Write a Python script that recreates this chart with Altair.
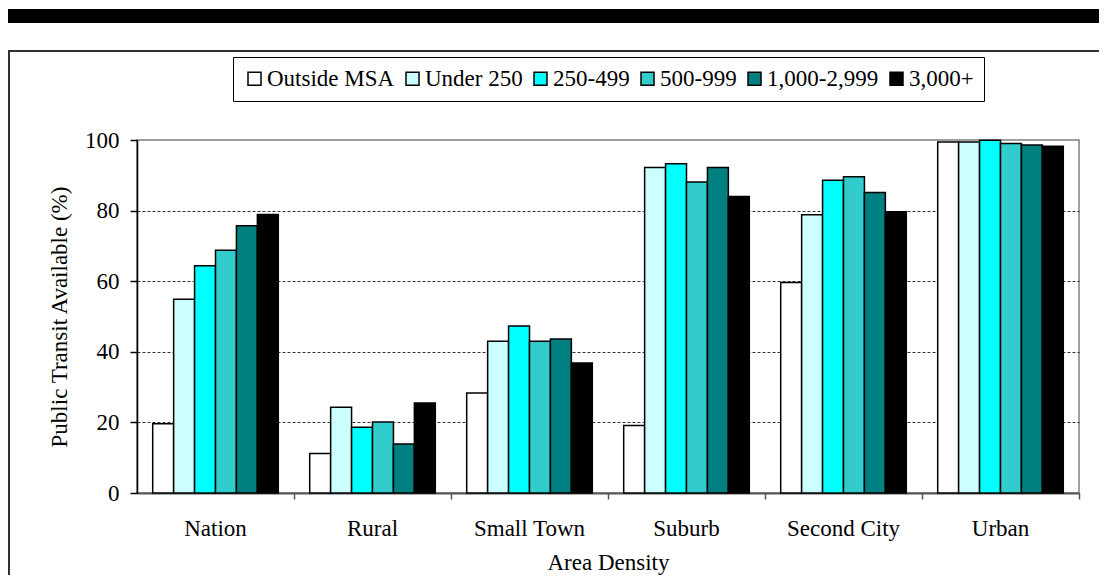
import altair as alt
import pandas as pd

categories = ["Nation", "Rural", "Small Town", "Suburb", "Second City", "Urban"]
series = ["Outside MSA", "Under 250", "250-499", "500-999", "1,000-2,999", "3,000+"]
colors = ["#FFFFFF", "#CCFFFF", "#00FFFF", "#33CCCC", "#008080", "#000000"]

outside_msa = [19.6, 11.2, 28.3, 19.1, 59.6, 99.4]
under_250 = [54.9, 24.3, 43.0, 92.2, 78.8, 99.4]
s250_499 = [64.4, 18.6, 47.3, 93.3, 88.6, 99.9]
s500_999 = [68.8, 20.1, 43.0, 88.1, 89.6, 99.0]
s1000_2999 = [75.7, 13.9, 43.6, 92.2, 85.1, 98.6]
s3000_plus = [78.9, 25.5, 36.8, 84.0, 79.7, 98.2]

all_series = [outside_msa, under_250, s250_499, s500_999, s1000_2999, s3000_plus]
rows = []
for sname, vals in zip(series, all_series):
    for cat, v in zip(categories, vals):
        rows.append({"Area": cat, "Series": sname, "Value": v})
df = pd.DataFrame(rows)

FONT = "Liberation Serif"
FS = 23

bars = alt.Chart(df).mark_bar(stroke="black", strokeWidth=1.5).encode(
    x=alt.X(
        "Area:N",
        sort=categories,
        scale=alt.Scale(paddingInner=0.2, paddingOuter=0.1),
        axis=alt.Axis(
            title="Area Density",
            labelAngle=0,
            bandPosition=1.125,
            tickSize=6,
            tickColor="#555555",
            tickWidth=1.5,
            domainColor="#555555",
            domainWidth=2,
            labelPadding=18,
            titlePadding=11,
            labelFont=FONT,
            labelFontSize=FS,
            labelColor="black",
            titleFont=FONT,
            titleFontSize=FS,
            titleFontWeight="normal",
            titleColor="black",
        ),
    ),
    xOffset=alt.XOffset("Series:N", sort=series, scale=alt.Scale(paddingInner=0, paddingOuter=0)),
    y=alt.Y(
        "Value:Q",
        scale=alt.Scale(domain=[0, 100], nice=False),
        axis=alt.Axis(
            title="Public Transit Available (%)",
            values=[0, 20, 40, 60, 80, 100],
            grid=True,
            gridDash=[3, 2],
            gridColor="#333333",
            gridWidth=1,
            gridOpacity={"condition": {"test": "datum.value === 100", "value": 0}, "value": 1},
            tickSize=7,
            tickColor="black",
            tickWidth=1.5,
            domainColor="black",
            domainWidth=1.5,
            labelPadding=11,
            titlePadding=13,
            labelFont=FONT,
            labelFontSize=FS,
            labelColor="black",
            titleFont=FONT,
            titleFontSize=FS,
            titleFontWeight="normal",
            titleColor="black",
        ),
    ),
    color=alt.Color(
        "Series:N",
        sort=series,
        scale=alt.Scale(domain=series, range=colors),
        legend=alt.Legend(
            title=None,
            orient="none",
            legendX=96,
            legendY=-83,
            direction="horizontal",
            columns=6,
            symbolType="square",
            symbolSize=169,
            symbolStrokeColor="black",
            symbolStrokeWidth=1.5,
            symbolOpacity=1,
            labelFont=FONT,
            labelFontSize=FS,
            labelColor="black",
            labelOffset=1,
            columnPadding=6,
            padding=10,
            strokeColor="black",
            fillColor="white",
        ),
    ),
)

deco = alt.Data(values=[{"k": 1}])

band = alt.Chart(deco).mark_rect(color="black").encode(
    x=alt.value(-129), x2=alt.value(962), y=alt.value(-131), y2=alt.value(-117)
)

frame_top = alt.Chart(deco).mark_rule(stroke="#303030", strokeWidth=2).encode(
    x=alt.value(-128), x2=alt.value(962), y=alt.value(-89)
)
frame_left = alt.Chart(deco).mark_rule(stroke="#303030", strokeWidth=2).encode(
    x=alt.value(-128), y=alt.value(-90), y2=alt.value(436)
)

chart = alt.layer(frame_top, frame_left, band, bars).properties(
    width=942,
    height=353,
    autosize=alt.AutoSizeParams(type="none"),
    padding={"left": 129, "top": 132, "right": 20, "bottom": 82},
    background="white",
).configure(
    font=FONT
).configure_axis(
    labelFont=FONT, titleFont=FONT
).configure_legend(
    labelFont=FONT, titleFont=FONT
).configure_view(stroke="#808080", strokeWidth=1.5)

chart.save("out.html", embed_options={"renderer": "svg", "actions": False})
